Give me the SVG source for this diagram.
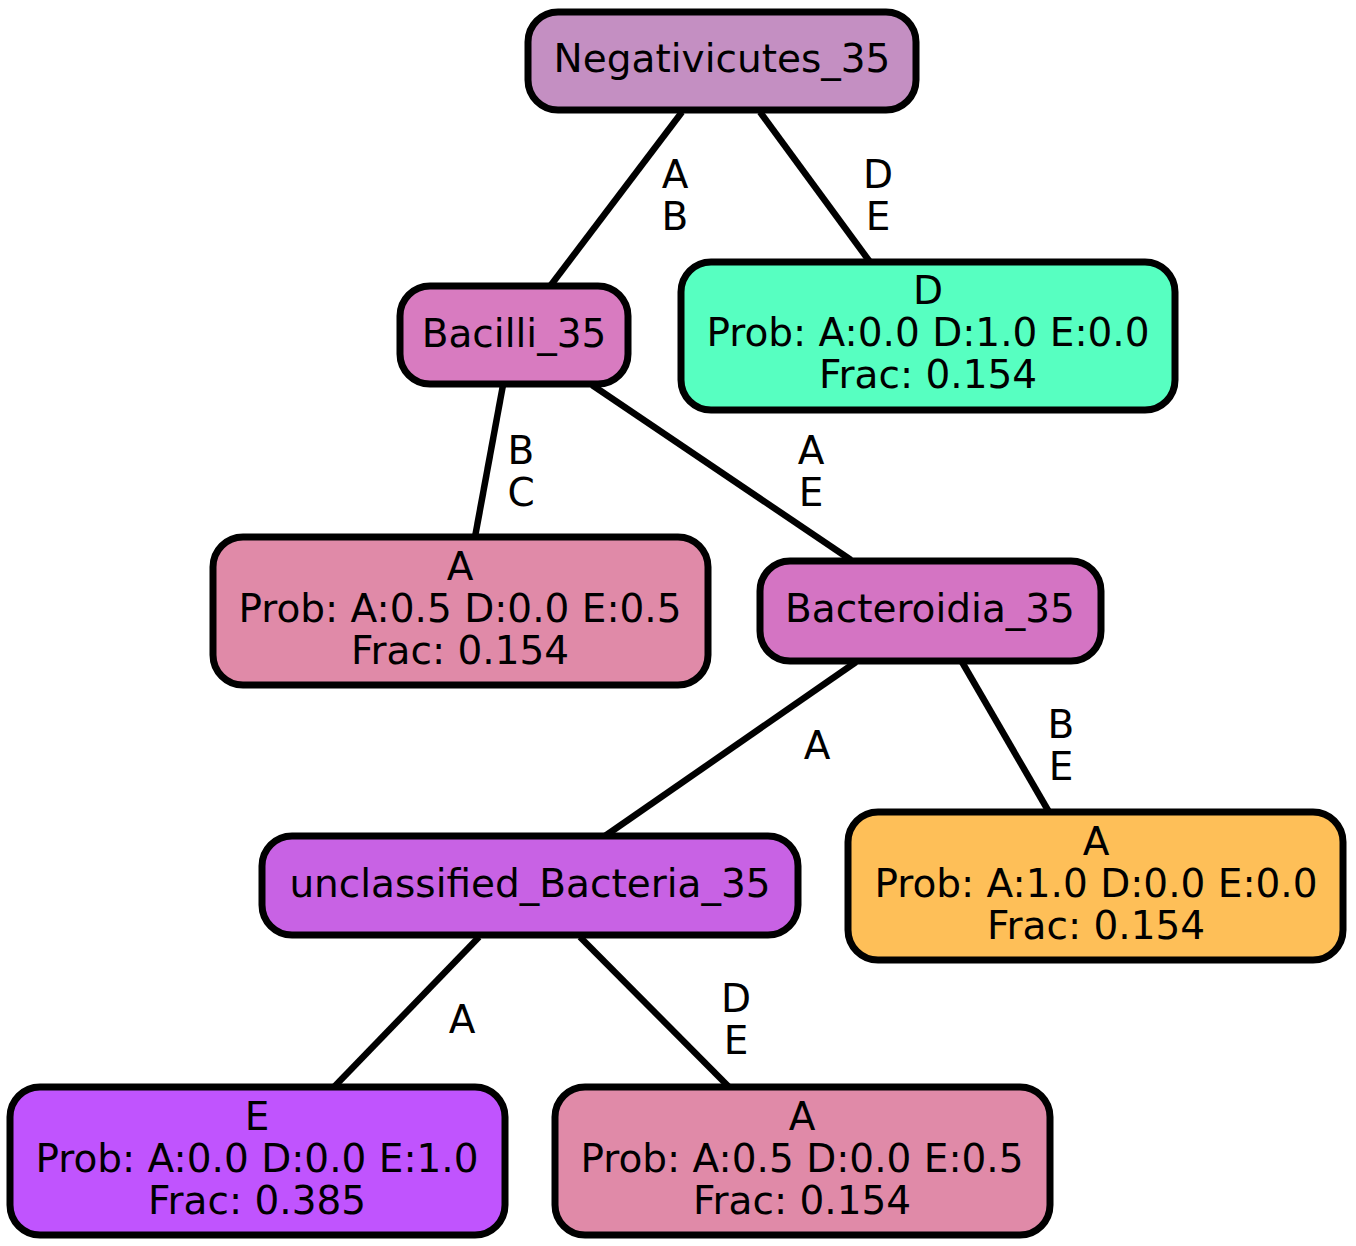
<svg xmlns="http://www.w3.org/2000/svg" width="1356" height="1246" viewBox="0 0 1356 1246">
<style>
.n rect{stroke:#000;stroke-width:7}
text{font-family:"DejaVu Sans",sans-serif;font-size:39px;fill:#000;text-anchor:middle}
.e line{stroke:#000;stroke-width:6.5}
</style>
<rect width="1356" height="1246" fill="#fff"/>
<g id="connectors" class="e">
<line x1="682" y1="112" x2="551" y2="285"/>
<line x1="760" y1="112" x2="870" y2="262"/>
<line x1="503" y1="385" x2="475" y2="537"/>
<line x1="592" y1="385" x2="851" y2="560"/>
<line x1="856" y1="662" x2="605" y2="836"/>
<line x1="962" y1="662" x2="1049" y2="812"/>
<line x1="479" y1="937" x2="334" y2="1087"/>
<line x1="580" y1="937" x2="729" y2="1087"/>
<text x="675" y="188">A</text><text x="675" y="230">B</text>
<text x="878" y="188">D</text><text x="878" y="230">E</text>
<text x="521" y="464">B</text><text x="521" y="506">C</text>
<text x="811" y="464">A</text><text x="811" y="506">E</text>
<text x="817" y="759">A</text>
<text x="1061" y="738">B</text><text x="1061" y="780">E</text>
<text x="462" y="1033">A</text>
<text x="736" y="1012">D</text><text x="736" y="1054">E</text>
</g>
<g id="n1" class="n"><rect x="528" y="12" width="388" height="98" rx="30" fill="#C48FC2"/><text x="722" y="72">Negativicutes_35</text></g>
<g id="n2" class="n"><rect x="400" y="286" width="228" height="98" rx="30" fill="#D87BC0"/><text x="514" y="347">Bacilli_35</text></g>
<g id="n3" class="n"><rect x="681" y="262" width="494" height="148" rx="30" fill="#57FFC1"/><text x="928" y="304">D</text><text x="928" y="346">Prob: A:0.0 D:1.0 E:0.0</text><text x="928" y="388">Frac: 0.154</text></g>
<g id="n4" class="n"><rect x="213" y="537" width="495" height="148" rx="30" fill="#E08AA8"/><text x="460" y="580">A</text><text x="460" y="622">Prob: A:0.5 D:0.0 E:0.5</text><text x="460" y="664">Frac: 0.154</text></g>
<g id="n5" class="n"><rect x="760" y="561" width="341" height="100" rx="30" fill="#D474C3"/><text x="930" y="622">Bacteroidia_35</text></g>
<g id="n6" class="n"><rect x="262" y="836" width="536" height="99" rx="30" fill="#C862E4"/><text x="530" y="897">unclassified_Bacteria_35</text></g>
<g id="n7" class="n"><rect x="848" y="812" width="495" height="148" rx="30" fill="#FEBF58"/><text x="1096" y="855">A</text><text x="1096" y="897">Prob: A:1.0 D:0.0 E:0.0</text><text x="1096" y="939">Frac: 0.154</text></g>
<g id="n8" class="n"><rect x="10" y="1087" width="495" height="148" rx="30" fill="#C054FE"/><text x="257" y="1130">E</text><text x="257" y="1172">Prob: A:0.0 D:0.0 E:1.0</text><text x="257" y="1214">Frac: 0.385</text></g>
<g id="n9" class="n"><rect x="555" y="1087" width="495" height="148" rx="30" fill="#E08AA8"/><text x="802" y="1130">A</text><text x="802" y="1172">Prob: A:0.5 D:0.0 E:0.5</text><text x="802" y="1214">Frac: 0.154</text></g>
</svg>
